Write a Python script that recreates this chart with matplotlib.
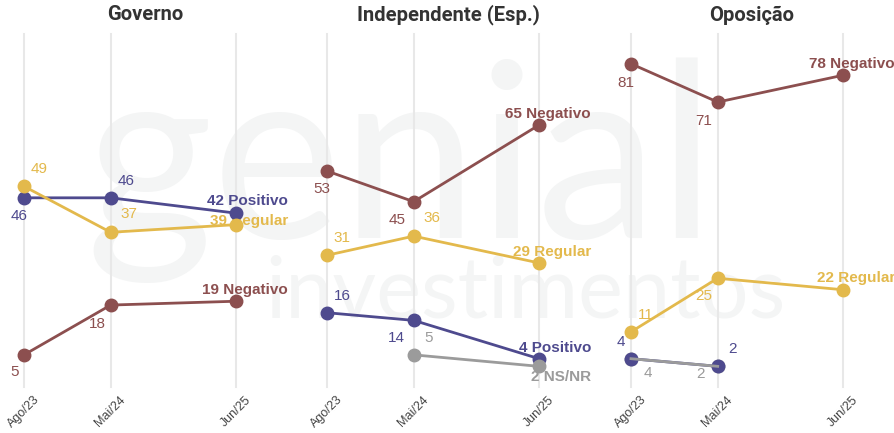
import datetime as dt
import matplotlib
matplotlib.use("Agg")
import matplotlib.pyplot as plt

# data
categories = ["Ago/23", "Mai/24", "Jun/25"]
dates = [dt.date(2023, 8, 1), dt.date(2024, 5, 1), dt.date(2025, 6, 1)]
panels = ["Governo", "Independente (Esp.)", "Oposição"]

gov_positivo = [46, 46, 42]
gov_regular = [49, 37, 39]
gov_negativo = [5, 18, 19]

ind_positivo = [16, 14, 4]
ind_regular = [31, 36, 29]
ind_negativo = [53, 45, 65]
ind_nsnr = [None, 5, 2]

opo_positivo = [4, 2, None]
opo_regular = [11, 25, 22]
opo_negativo = [81, 71, 78]
opo_nsnr = [4, 2, None]

colors = {"Positivo": "#4e4a8e", "Regular": "#e3b94c",
          "Negativo": "#8c4f4f", "NS/NR": "#9b9b9b"}

series = [
    [("Positivo", gov_positivo), ("Regular", gov_regular), ("Negativo", gov_negativo)],
    [("Positivo", ind_positivo), ("Regular", ind_regular), ("Negativo", ind_negativo),
     ("NS/NR", ind_nsnr)],
    [("Positivo", opo_positivo), ("Regular", opo_regular), ("Negativo", opo_negativo),
     ("NS/NR", opo_nsnr)],
]

# label offsets in pixels (dx, dy up) for the non-final points
AR, BL, B = (15, 17), (-17, -18), (-5, -18)
offsets = [
    {"Positivo": [B, AR], "Regular": [AR, (18, 18)], "Negativo": [(-9, -17), (-13, -19)]},
    {"Positivo": [AR, BL], "Regular": [AR, (18, 18)], "Negativo": [B, BL], "NS/NR": [None, AR]},
    {"Positivo": [(-10, 17), AR], "Regular": [AR, (-14, -18)], "Negativo": [(-5, -19), (-14, -19)],
     "NS/NR": [(17, -14), (-17, -8)]},
]
end_dy = [{"Positivo": 12, "Regular": 4, "Negativo": 11},
          {"Positivo": 11, "Regular": 11, "Negativo": 11, "NS/NR": -11},
          {"Positivo": 11, "Regular": 12, "Negativo": 11, "NS/NR": -11}]
nsnr_marker_z = [3.5, 3.5, 2.5]

W, H = 895, 433
fig = plt.figure(figsize=(W / 100, H / 100), dpi=100)
fig.patch.set_facecolor("white")

# watermark
fig.text(85 / W, 1 - 238 / H, "genial", fontsize=176, color="#f4f5f5",
         family="Lato", zorder=-5)
fig.text(265 / W, 1 - 317 / H, "investimentos", fontsize=61, color="#f4f5f5",
         family="Lato", zorder=-5)

lefts = [24, 327, 631]
width = 212
top, bottom = 34, 387
zero_px, slope = 374, 3.83
title_x = [145, 448, 752]

for i, name in enumerate(panels):
    ax = fig.add_axes([lefts[i] / W, 1 - bottom / H, width / W, (bottom - top) / H])
    ax.patch.set_alpha(0)
    ax.set_xlim(dates[0], dates[-1])
    ax.set_ylim(-(bottom - zero_px) / slope, (zero_px - top) / slope)
    for s in ax.spines.values():
        s.set_visible(False)
    for d in dates:
        ax.axvline(d, color="#e8e8e8", lw=1.5, clip_on=False, zorder=0)
    ax.set_yticks([])
    ax.set_xticks(dates)
    ax.set_xticklabels(categories, rotation=45, ha="center", va="top",
                       fontsize=9, color="#444444", family="Liberation Sans")
    ax.tick_params(axis="x", length=0, pad=5)

    for label, vals in series[i]:
        c = colors[label]
        xs = [d for d, v in zip(dates, vals) if v is not None]
        ys = [v for v in vals if v is not None]
        if label == "NS/NR":
            ax.plot(xs, ys, color=c, lw=2, clip_on=False, zorder=4)
            ax.plot(xs, ys, color=c, lw=0, marker="o", ms=9, clip_on=False,
                    zorder=nsnr_marker_z[i])
        else:
            ax.plot(xs, ys, color=c, lw=2, marker="o", ms=9, clip_on=False, zorder=3)
        for j, (d, v) in enumerate(zip(dates, vals)):
            if v is None:
                continue
            if j == len(dates) - 1:
                ax.annotate(f"{v} {label}", (d, v), xytext=(52, end_dy[i][label]),
                            textcoords="offset pixels", ha="right", va="center",
                            fontsize=11, fontweight="bold", color=c,
                            family="Liberation Sans", zorder=2)
            else:
                off = offsets[i][label][j]
                ax.annotate(str(v), (d, v), xytext=off, textcoords="offset pixels",
                            ha="center", va="center", fontsize=11, color=c,
                            family="Liberation Sans", zorder=2)

    fig.text(title_x[i] / W, 1 - 15 / H, name, ha="center", va="center",
             fontsize=14.5, fontweight="bold", color="#333333", family="Roboto")

fig.savefig("out.png", dpi=100)
